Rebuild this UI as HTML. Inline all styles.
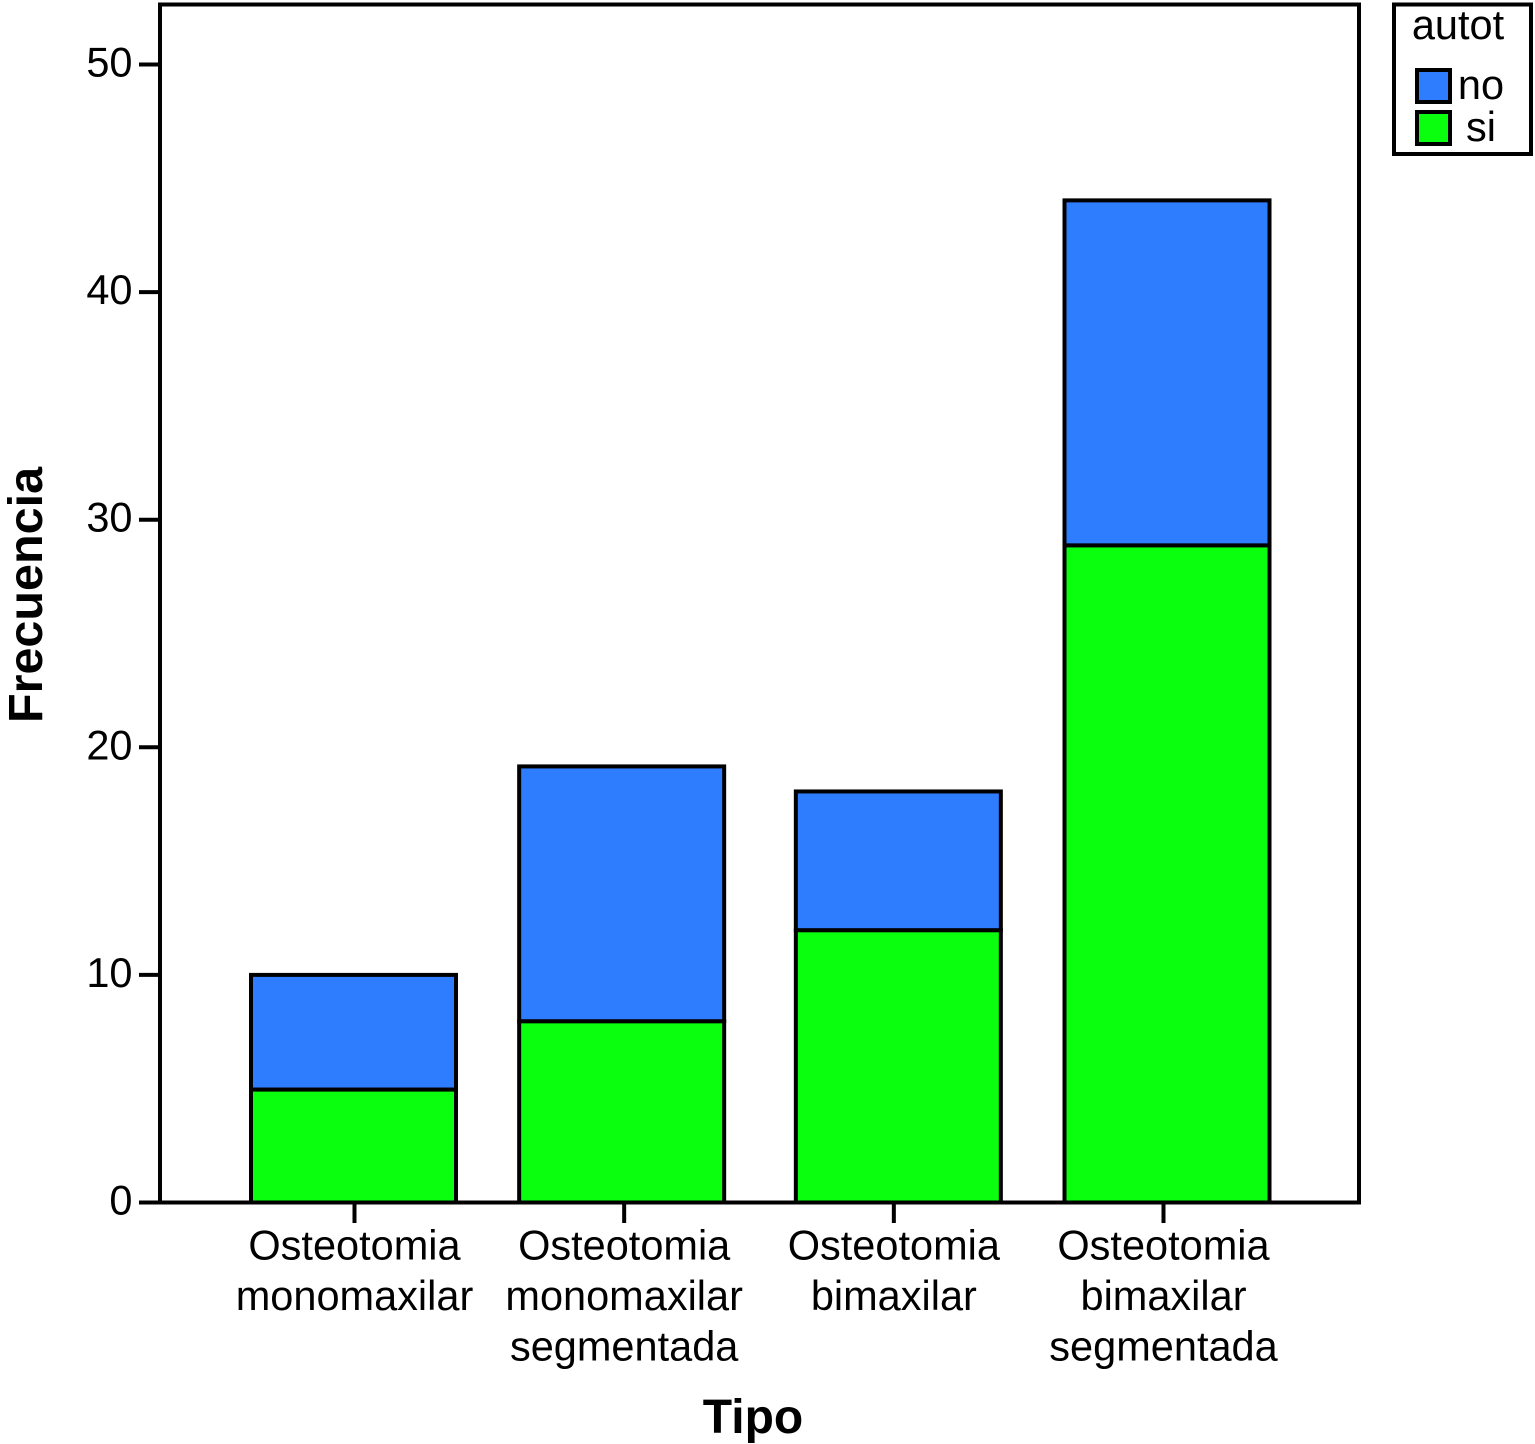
<!DOCTYPE html>
<html lang="es">
<head>
<meta charset="utf-8">
<title>Frecuencia por tipo</title>
<style>
html,body{margin:0;padding:0;background:#fff;}
svg{display:block;font-family:"Liberation Sans",Arial,sans-serif;}
</style>
</head>
<body>
<svg id="chart" xmlns="http://www.w3.org/2000/svg" width="1535" height="1444" viewBox="0 0 1535 1444">
  <rect x="0" y="0" width="1535" height="1444" fill="#fff"/>
  <g id="bars"></g>
  <g id="axes"></g>
  <rect x="160" y="4.5" width="1199" height="1198" fill="none" stroke="#000" stroke-width="4"/>
  <text transform="translate(42 595) rotate(-90)" text-anchor="middle" font-size="48.5" font-weight="bold">Frecuencia</text>
  <text x="753" y="1433" text-anchor="middle" font-size="48" font-weight="bold">Tipo</text>
  <g>
    <rect x="1394" y="4.5" width="137" height="149.5" fill="#fff" stroke="#000" stroke-width="4"/>
    <text x="1458" y="39" text-anchor="middle" font-size="41.5">autot</text>
    <rect x="1417" y="70" width="33" height="32" fill="#2f7dff" stroke="#000" stroke-width="4"/>
    <text x="1481" y="99" text-anchor="middle" font-size="41.5">no</text>
    <rect x="1417" y="112" width="33" height="32" fill="#09ff0d" stroke="#000" stroke-width="4"/>
    <text x="1481" y="141" text-anchor="middle" font-size="41.5">si</text>
  </g>
</svg>
<script>
const categories = [
  ["Osteotomia", "monomaxilar"],
  ["Osteotomia", "monomaxilar", "segmentada"],
  ["Osteotomia", "bimaxilar"],
  ["Osteotomia", "bimaxilar", "segmentada"]
];
const siValues = [4.96, 7.96, 11.96, 28.87];
const noValues = [5.04, 11.2, 6.1, 15.16];
const yTickValues = [0, 10, 20, 30, 40, 50];

const NS = "http://www.w3.org/2000/svg";
const barsLayer = document.getElementById("bars");
const axesLayer = document.getElementById("axes");

function yScale(v) { return 1202.5 - v * 22.76; }
function xTick(i) { return 354.5 + i * 269.67; }
function barCenter(i) {
  const drift = [-1, -2.5, 4.5, 3.5];
  return xTick(i) + (drift[i] || 0);
}
const barWidth = 205;

function make(tag, attrs, parent) {
  const el = document.createElementNS(NS, tag);
  for (const k in attrs) el.setAttribute(k, attrs[k]);
  parent.appendChild(el);
  return el;
}

categories.forEach(function (lines, i) {
  const x = barCenter(i) - barWidth / 2;
  const siTop = yScale(siValues[i]);
  const noTop = yScale(siValues[i] + noValues[i]);

  const noBar = make("rect", { x: x, y: noTop, width: barWidth, height: siTop - noTop, fill: "#2f7dff", stroke: "#000", "stroke-width": 4 }, barsLayer);
  
  

  const siBar = make("rect", { x: x, y: siTop, width: barWidth, height: yScale(0) - siTop, fill: "#09ff0d", stroke: "#000", "stroke-width": 4 }, barsLayer);
  
  

  const tick = make("line", { x1: xTick(i), x2: xTick(i), y1: 1202, y2: 1223, stroke: "#000", "stroke-width": 4 }, axesLayer);
  
  

  const label = make("text", { "text-anchor": "middle", "font-size": 41.5 }, axesLayer);
  
  
  lines.forEach(function (line, j) {
    const span = make("tspan", { x: xTick(i), y: 1259.5 + j * 50.5 }, label);
    span.textContent = line;
  });
});

yTickValues.forEach(function (v) {
  const tick = make("line", { x1: 139, x2: 160, y1: yScale(v), y2: yScale(v), stroke: "#000", "stroke-width": 4 }, axesLayer);
  
  

  const label = make("text", { x: 132.5, y: yScale(v) + 12, "text-anchor": "end", "font-size": 41.5 }, axesLayer);
  
  
  label.textContent = v;
});
</script>
</body>
</html>
